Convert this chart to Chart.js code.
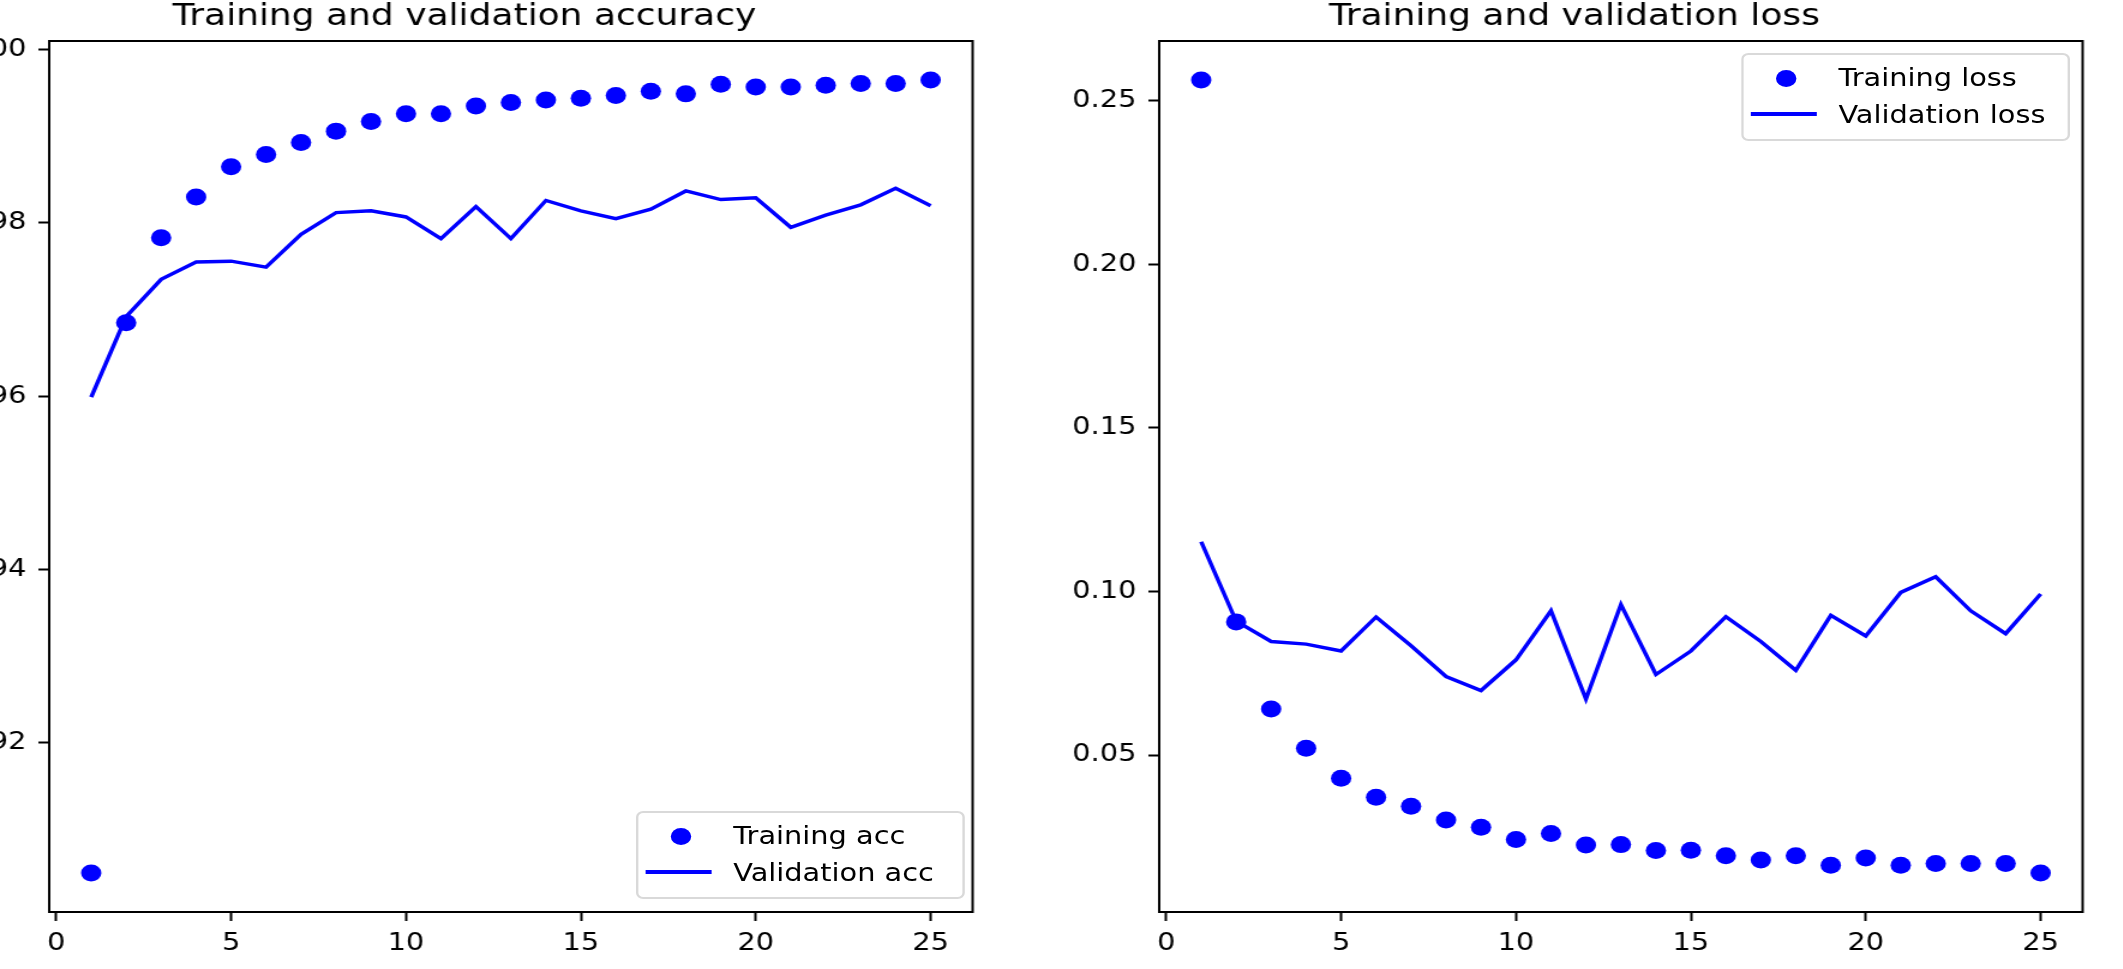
<!DOCTYPE html>
<html>
<head>
<meta charset="utf-8">
<script src="https://cdn.jsdelivr.net/npm/chart.js@4.4.1/dist/chart.umd.min.js"></script>
<style>
  html, body { margin: 0; padding: 0; background: #fff; overflow: hidden; width: 2123px; height: 969px; }
  #wrap { position: absolute; left: 0; top: 0; width: 1769px; height: 969px; transform: scaleX(1.2); transform-origin: 0 0; }
  canvas { position: absolute; }
  .legend { position: absolute; width: 270px; height: 84px; border: 2px solid #d9d9d9; border-radius: 6px;
            background: rgba(255,255,255,0.8); font-family: 'DejaVu Sans', sans-serif; font-size: 24px; color: #000; }
  .legend .dot { position: absolute; left: 26.5px; top: 14.5px; width: 17px; height: 17px; border-radius: 50%; background: #0000ff; }
  .legend .ln { position: absolute; left: 6px; top: 57px; width: 55px; height: 3.5px; background: #0000ff; }
  .legend .txt { position: absolute; left: 79px; line-height: 30px; white-space: nowrap; }
</style>
</head>
<body>
<div id="wrap">
  <canvas id="accChart" width="858" height="979" style="left:-39px; top:-10px;"></canvas>
  <canvas id="lossChart" width="858" height="979" style="left:886px; top:-10px;"></canvas>
  <div class="legend" id="accLegend" style="left:530px; top:811px;"></div>
  <div class="legend" id="lossLegend" style="left:1451px; top:53px;"></div>
</div>
<script>
const epochs = [1, 2, 3, 4, 5, 6, 7, 8, 9, 10, 11, 12, 13, 14, 15, 16, 17, 18, 19, 20, 21, 22, 23, 24, 25]

const trainAcc = [0.9050, 0.9685, 0.9783, 0.9830, 0.9865, 0.9879, 0.9893, 0.9906, 0.9917, 0.9926, 0.9926, 0.9935, 0.9939,
                  0.9942, 0.9944, 0.9947, 0.9952, 0.9949, 0.9960, 0.9957, 0.9957, 0.9959, 0.9961, 0.9961, 0.9965]
const valAcc = [0.9599, 0.9692, 0.9735, 0.9755, 0.9756, 0.9749, 0.9787, 0.9812, 0.9814, 0.9807, 0.9782, 0.9819, 0.9782,
                0.9826, 0.9814, 0.9805, 0.9816, 0.9837, 0.9827, 0.9829, 0.9795, 0.9809, 0.9821, 0.9840, 0.9820]

const trainLoss = [0.2564, 0.0907, 0.0641, 0.0521, 0.0429, 0.0371, 0.0343, 0.0301, 0.0279, 0.0242, 0.0260, 0.0225, 0.0226,
                   0.0208, 0.0209, 0.0192, 0.0179, 0.0192, 0.0163, 0.0185, 0.0163, 0.0168, 0.0168, 0.0168, 0.0139]
const valLoss = [0.1152, 0.0909, 0.0847, 0.0839, 0.0818, 0.0922, 0.0834, 0.0740, 0.0697, 0.0791, 0.0941, 0.0671, 0.0960,
                 0.0746, 0.0818, 0.0923, 0.0847, 0.0759, 0.0927, 0.0864, 0.0997, 0.1045, 0.0941, 0.0871, 0.0992]

const xTicks = [0, 5, 10, 15, 20, 25]
const accTicks = [0.92, 0.94, 0.96, 0.98, 1.00]
const lossTicks = [0.05, 0.10, 0.15, 0.20, 0.25]

const accNames = ['Training acc', 'Validation acc']
const lossNames = ['Training loss', 'Validation loss']

Chart.defaults.font.family = "'DejaVu Sans', sans-serif"
Chart.defaults.color = '#000'

function pares(ys) {
  return epochs.map((e, i) => ({ x: e, y: ys[i] }))
}

// moldura preta nos quatro lados
const moldura = {
  id: 'moldura',
  afterDraw(chart) {
    const a = chart.chartArea
    const ctx = chart.ctx
    ctx.save()
    ctx.strokeStyle = '#000'
    ctx.lineWidth = 2
    ctx.strokeRect(a.left, a.top, a.right - a.left, a.bottom - a.top)
    ctx.restore()
  }
}

function montar(id, titulo, nomes, treino, valid, yTicks, yMin, yMax) {
  const ctx = document.getElementById(id)
  const data = {
    datasets: [{
      label: nomes[0],
      data: pares(treino),
      showLine: false,
      pointRadius: 8.5,
      pointBorderWidth: 0,
      backgroundColor: '#0000ff',
      borderColor: '#0000ff'
    }, {
      label: nomes[1],
      data: pares(valid),
      pointRadius: 0,
      borderWidth: 3.5,
      borderColor: '#0000ff',
      tension: 0
    }]
  }
  const config = {
    type: 'line',
    data: data,
    options: {
      responsive: false,
      animation: false,
      layout: { padding: { right: 6, bottom: 0, top: 0, left: 0 } },
      plugins: {
        legend: { display: false },
        tooltip: { enabled: false },
        title: {
          display: true,
          text: titulo,
          color: '#000',
          font: { size: 30, weight: 'normal' },
          padding: { top: 9, bottom: 6 }
        }
      },
      scales: {
        x: {
          type: 'linear',
          min: -0.2,
          max: 26.2,
          afterBuildTicks: s => { s.ticks = xTicks.map(v => ({ value: v })) },
          afterFit: s => { s.height = 57 },
          ticks: { font: { size: 24 }, padding: 8, color: '#000', maxRotation: 0, callback: v => String(v) },
          grid: { drawOnChartArea: false, tickLength: 9, tickColor: '#000', tickWidth: 2 },
          border: { color: '#000', width: 2 }
        },
        y: {
          min: yMin,
          max: yMax,
          afterBuildTicks: s => { s.ticks = yTicks.map(v => ({ value: v })) },
          afterFit: s => { s.width = 80 },
          ticks: { font: { size: 24 }, padding: 10, color: '#000', callback: v => v.toFixed(2) },
          grid: { drawOnChartArea: false, tickLength: 9, tickColor: '#000', tickWidth: 2 },
          border: { color: '#000', width: 2 }
        }
      }
    },
    plugins: [moldura]
  }
  return new Chart(ctx, config)
}

function legenda(id, nomes) {
  const el = document.getElementById(id)
  el.innerHTML = '<div class="dot"></div><div class="ln"></div>' +
    '<div class="txt" style="top:8px">' + nomes[0] + '</div>' +
    '<div class="txt" style="top:45px">' + nomes[1] + '</div>'
}

const accChart = montar('accChart', 'Training and validation accuracy', accNames, trainAcc, valAcc, accTicks, 0.9005, 1.0010)
const lossChart = montar('lossChart', 'Training and validation loss', lossNames, trainLoss, valLoss, lossTicks, 0.002, 0.2683)
legenda('accLegend', accNames)
legenda('lossLegend', lossNames)
</script>
</body>
</html>
